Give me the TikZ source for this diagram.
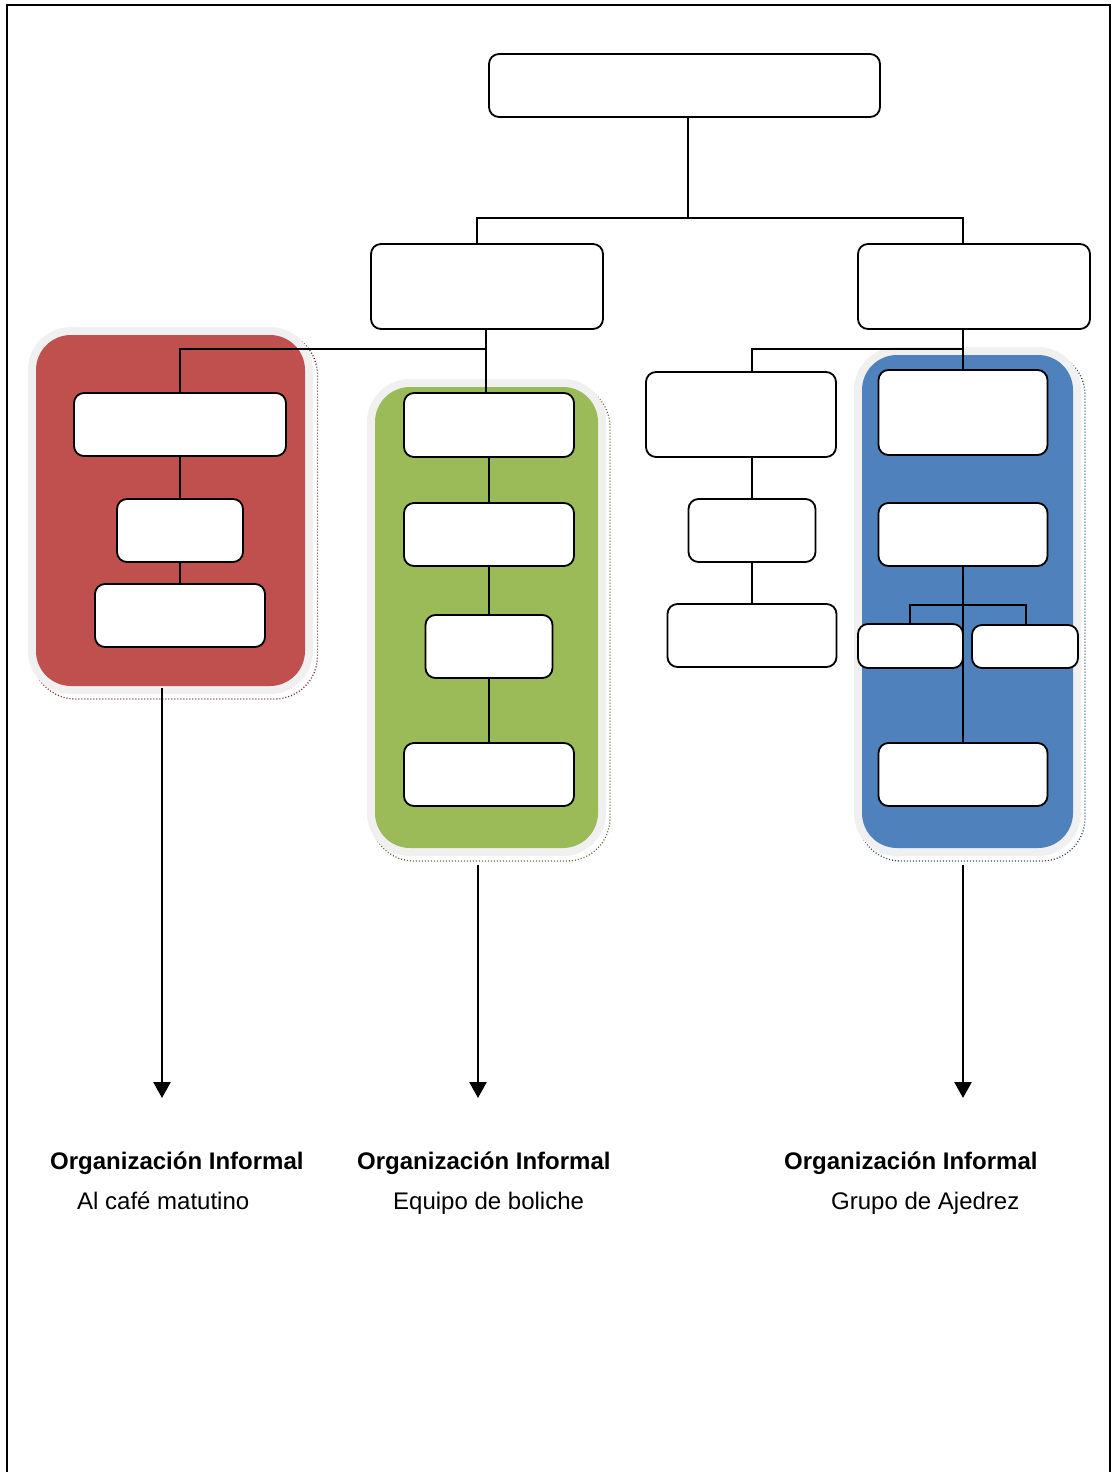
\documentclass[tikz,border=0pt]{standalone}
\usepackage{fontspec}
\setmainfont{Liberation Sans}
\usetikzlibrary{calc,arrows.meta}
\definecolor{grpred}{HTML}{C0504D}
\definecolor{grpgreen}{HTML}{9BBB59}
\definecolor{grpblue}{HTML}{4F81BD}
\definecolor{halo}{HTML}{F0F0F0}
\tikzset{
  orgbox/.style={draw=black, line width=1.8pt, rounded corners=10pt, fill=white,
    inner sep=0pt, minimum width=#1},
  link/.style={draw=black, line width=2pt},
  grpfill/.style={fill=#1, draw=none, rounded corners=35pt, inner sep=0pt},
  grphalo/.style={fill=halo, draw=none, rounded corners=43pt, inner sep=0pt},
  grpshadow/.style={draw=#1, dash pattern=on 1pt off 2pt, line width=1.3pt, rounded corners=43pt, inner sep=0pt},
  arr/.style={draw=black, line width=2.6pt, -{Triangle[width=17pt,length=16pt]}},
  boldlbl/.style={anchor=base west, inner sep=0pt, font=\fontsize{24}{29}\selectfont\bfseries},
  lbl/.style={anchor=base west, inner sep=0pt, font=\fontsize{24}{29}\selectfont},
}
\begin{document}
\begin{tikzpicture}[x=1pt,y=-1pt]
\useasboundingbox (0,0) rectangle (1114,1472);
\fill[white] (0,0) rectangle (1114,1472);
% page frame
\draw[line width=2pt] (7,1473) -- (7,5) -- (1110,5) -- (1110,1473);

% group backgrounds: dotted shadow, light halo, coloured panel
\node[grpshadow=grpred!60!black, minimum width=285pt, minimum height=367pt] (redsh) at (175,515.5) {};
\node[grphalo, minimum width=285pt, minimum height=367pt] (redhalo) at (170.5,510.5) {};
\node[grpfill=grpred, minimum width=269pt, minimum height=351pt] (red) at (170.5,510.5) {};

\node[grpshadow=grpgreen!60!black, minimum width=239pt, minimum height=477pt] (greensh) at (490.5,622.5) {};
\node[grphalo, minimum width=239pt, minimum height=477pt] (greenhalo) at (486.5,617.5) {};
\node[grpfill=grpgreen, minimum width=223pt, minimum height=461pt] (green) at (486.5,617.5) {};

\node[grpshadow=grpblue!60!black, minimum width=227pt, minimum height=509pt] (bluesh) at (971.5,606.5) {};
\node[grphalo, minimum width=227pt, minimum height=509pt] (bluehalo) at (967.5,601.5) {};
\node[grpfill=grpblue, minimum width=211pt, minimum height=493pt] (blue) at (967.5,601.5) {};

% connector junctions
\coordinate (jtop) at (688,218);
\coordinate (jl) at (486,349);
\coordinate (jr) at (963,349);
\coordinate (br) at (963,605);

% boxes
\node[orgbox=391pt, minimum height=63pt] (top) at (684.5,85.5) {};
\node[orgbox=232pt, minimum height=85pt] (L2a) at (487,286.5) {};
\node[orgbox=232pt, minimum height=85pt] (L2b) at (974,286.5) {};

\node[orgbox=212pt, minimum height=63pt] (r1) at (180,424.5) {};
\node[orgbox=126pt, minimum height=63pt] (r2) at (180,530.5) {};
\node[orgbox=170pt, minimum height=63pt] (r3) at (180,615.5) {};

\node[orgbox=170pt, minimum height=64pt] (g1) at (489,425) {};
\node[orgbox=170pt, minimum height=63pt] (g2) at (489,534.5) {};
\node[orgbox=127pt, minimum height=63pt] (g3) at (489,646.5) {};
\node[orgbox=170pt, minimum height=63pt] (g4) at (489,774.5) {};

\node[orgbox=190pt, minimum height=85pt] (m1) at (741,414.5) {};
\node[orgbox=127pt, minimum height=63pt] (m2) at (752,530.5) {};
\node[orgbox=169pt, minimum height=63pt] (m3) at (752,635.5) {};

\node[orgbox=169pt, minimum height=85pt] (b1) at (963,412.5) {};
\node[orgbox=169pt, minimum height=63pt] (b2) at (963,534.5) {};
\node[orgbox=169pt, minimum height=63pt] (b5) at (963,774.5) {};

% connectors
\draw[link] (top.south -| jtop) -- (jtop) -| (L2a.north -| 477,0);
\draw[link] (jtop) -| (L2b.north -| jr);
\draw[link] (L2a.south -| jl) -- (jl) -| (r1.north);
\draw[link] (jl) -- (g1.north -| jl);
\draw[link] (L2b.south -| jr) -- (jr) -| (m1.north -| m2);
\draw[link] (jr) -- (b1.north);
\draw[link] (r1.south) -- (r2.north);
\draw[link] (r2.south) -- (r3.north);
\draw[link] (g1.south) -- (g2.north);
\draw[link] (g2.south) -- (g3.north);
\draw[link] (g3.south) -- (g4.north);
\draw[link] (m1.south -| m2) -- (m2.north);
\draw[link] (m2.south) -- (m3.north);
\draw[link] (b2.south) -- (b5.north);

% small boxes of the blue group and their bracket
\node[orgbox=105pt, minimum height=44pt] (b3) at (910.5,646) {};
\node[orgbox=106pt, minimum height=43pt] (b4) at (1025,646.5) {};
\draw[link] (b3.north -| 910,0) |- (br) -| (b4.north -| 1026,0);

% labels
\node[boldlbl] (t1a) at (50,1169) {Organización Informal};
\node[lbl] (t1b) at (77,1209) {Al café matutino};
\node[boldlbl] (t2a) at (357,1169) {Organización Informal};
\node[lbl] (t2b) at (393,1209) {Equipo de boliche};
\node[boldlbl] (t3a) at (784,1169) {Organización Informal};
\node[lbl] (t3b) at (831,1209) {Grupo de Ajedrez};

% arrows down to the labels
\coordinate (a1) at (162,1098);
\coordinate (a2) at (478,1098);
\coordinate (a3) at (963,1098);
\draw[arr] ($(red.south -| a1)+(0,2)$) -- (a1);
\draw[arr] ($(green.south -| a2)+(0,17)$) -- (a2);
\draw[arr] ($(blue.south -| a3)+(0,17)$) -- (a3);
\end{tikzpicture}
\end{document}
